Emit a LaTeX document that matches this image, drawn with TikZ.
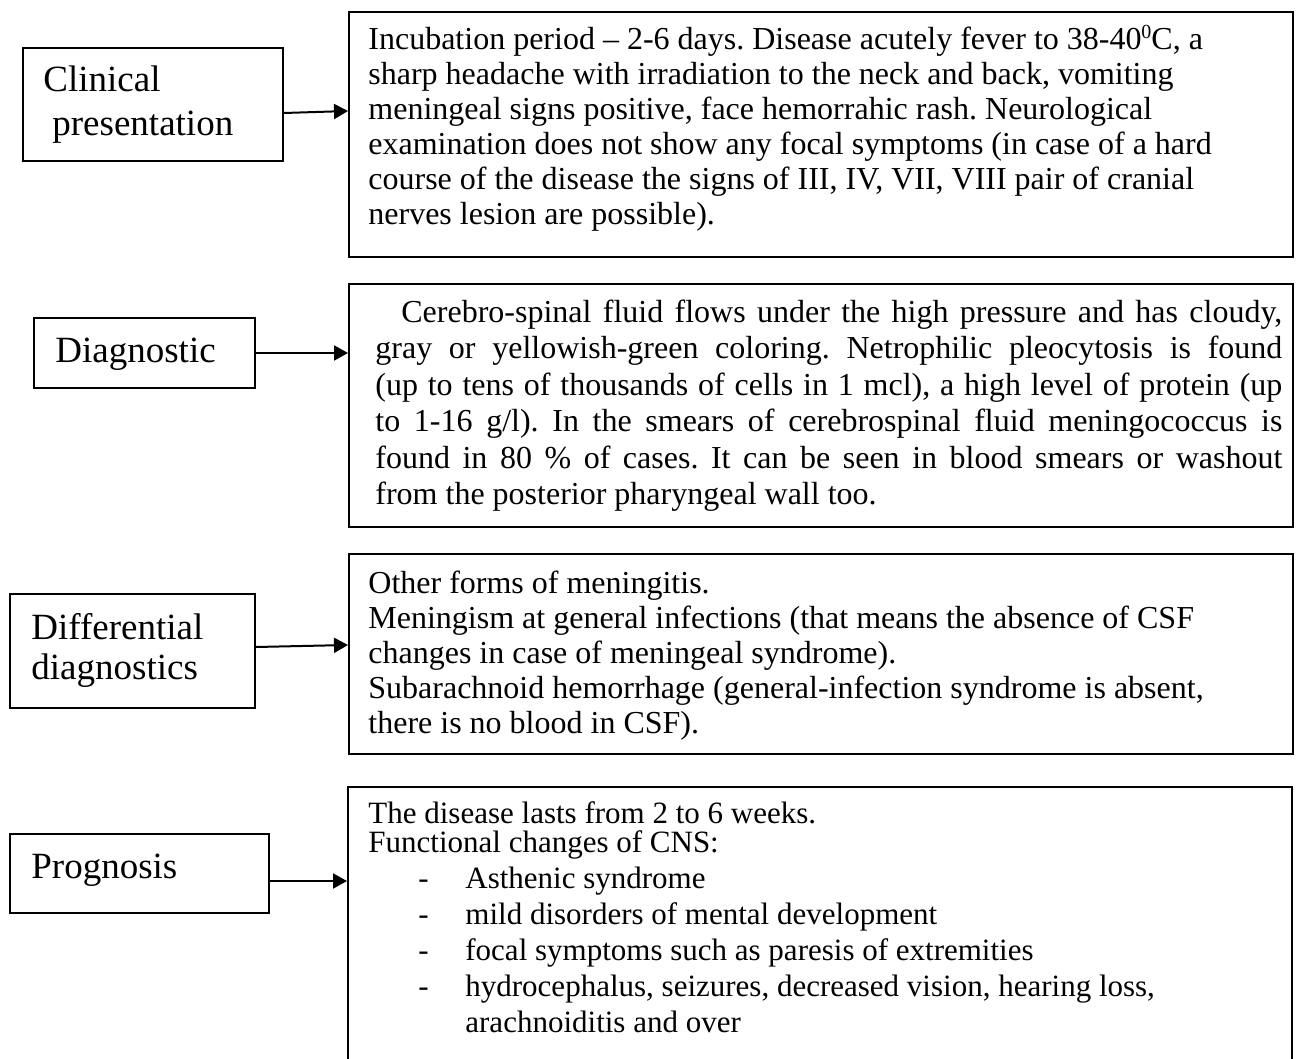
\documentclass[tikz,border=0pt]{standalone}
\usepackage{fontspec}
\setmainfont{Liberation Serif}
\usetikzlibrary{arrows.meta}
\hyphenpenalty=10000
\exhyphenpenalty=10000
\frenchspacing
% font set-ups for the description boxes
\newcommand\descfont{\fontsize{16}{17.5}\selectfont\lineskiplimit-20pt\relax}
\newcommand\diagfont{\fontsize{16}{18.25}\selectfont\lineskiplimit-20pt\relax}
\newcommand\progfont{\fontsize{15.5}{14.5}\selectfont\lineskiplimit-20pt\relax}
\newcommand\degzero{\raisebox{5.5pt}{\fontsize{10}{10}\selectfont 0}}
\begin{document}
\begin{tikzpicture}[x=0.5pt,y=-0.5pt,
  frame/.style={draw, line width=1pt, inner sep=0pt, anchor=north west},
  heading/.style={inner sep=0pt, anchor=north west, align=left,
    font=\fontsize{18.5}{22}\selectfont},
  body/.style={inner sep=0pt, anchor=north west, align=left, font=\descfont},
  link/.style={line width=1pt, -{Triangle[length=7pt,width=7.5pt]}}]
\useasboundingbox (0,0) rectangle (1296,1059);

% left-hand topic boxes
\node[frame, minimum width=130pt, minimum height=56.5pt] (clinicalframe) at (22,47) {};
\node[frame, minimum width=110.5pt, minimum height=35pt] (diagframe) at (33,317) {};
\node[frame, minimum width=122.5pt, minimum height=57pt] (diffframe) at (9,593) {};
\node[frame, minimum width=129.5pt, minimum height=39.5pt] (progframe) at (9,833) {};

% right-hand description boxes (the last one runs off the page)
\node[frame, minimum width=472pt, minimum height=122.5pt] (clinicalbox) at (348,11) {};
\node[frame, minimum width=472pt, minimum height=121.5pt] (diagbox) at (348,283) {};
\node[frame, minimum width=472pt, minimum height=100pt] (diffbox) at (348,553) {};
\node[frame, minimum width=472pt, minimum height=150pt] (progbox) at (347,786) {};

% topic labels
\node[heading] (clinicallabel) at (43,63)
  {\rule{0pt}{14pt}Clinical\\\hspace*{4.5pt}presentation};
\node[heading] (diaglabel) at (55,334) {\rule{0pt}{14pt}Diagnostic};
\node[heading, font=\fontsize{18.5}{20}\selectfont] (difflabel) at (31,611)
  {\rule{0pt}{14pt}Differential\\diagnostics};
\node[heading] (proglabel) at (31,850) {\rule{0pt}{14pt}Prognosis};

% descriptions
\node[body] (clinicaltext) at (368,21)
  {\rule{0pt}{14pt}Incubation period -- 2-6 days. Disease acutely fever to 38-40\degzero C, a\\
   sharp headache with irradiation to the neck and back, vomiting\\
   meningeal signs positive, face hemorrahic rash. Neurological\\
   examination does not show any focal symptoms (in case of a hard\\
   course of the disease the signs of III, IV, VII, VIII pair of cranial\\
   nerves lesion are possible).};

\node[body, align=justify, text width=453.5pt, font=\diagfont] (diagtext) at (375,294)
  {\rule{0pt}{14pt}\hspace*{13pt}Cerebro-spinal fluid flows under the high pressure and has cloudy,\linebreak
   gray or yellowish-green coloring. Netrophilic pleocytosis is found\linebreak
   (up to tens of thousands of cells in 1 mcl), a high level of protein (up\linebreak
   to 1-16 g/l). In the smears of cerebrospinal fluid meningococcus is\linebreak
   found in 80 \% of cases. It can be seen in blood smears or washout\linebreak
   from the posterior pharyngeal wall too.};

\node[body] (difftext) at (368,565)
  {\rule{0pt}{14pt}Other forms of meningitis.\\
   Meningism at general infections (that means the absence of CSF\\
   changes in case of meningeal syndrome).\\
   Subarachnoid hemorrhage (general-infection syndrome is absent,\\
   there is no blood in CSF).};

\node[body, font=\progfont] (progtext) at (368,795)
  {\rule{0pt}{14pt}The disease lasts from 2 to 6 weeks.\\
   Functional changes of CNS:\\[3.5pt]
   \makebox[48.5pt][l]{\hspace*{25pt}-}Asthenic syndrome\\[3.5pt]
   \makebox[48.5pt][l]{\hspace*{25pt}-}mild disorders of mental development\\[3.5pt]
   \makebox[48.5pt][l]{\hspace*{25pt}-}focal symptoms such as paresis of extremities\\[3.5pt]
   \makebox[48.5pt][l]{\hspace*{25pt}-}hydrocephalus, seizures, decreased vision, hearing loss,\\[3.5pt]
   \hspace*{48.5pt}arachnoiditis and over};

% connectors
\draw[link] ([yshift=-4.25pt]clinicalframe.east) -- ([yshift=11.75pt]clinicalbox.west);
\draw[link] (diagframe.east) -- ([yshift=26.25pt]diagbox.west);
\draw[link] ([yshift=2pt]diffframe.east) -- ([yshift=4.5pt]diffbox.west);
\draw[link] ([yshift=-3.75pt]progframe.east) -- ([yshift=28pt]progbox.west);
\end{tikzpicture}
\end{document}
